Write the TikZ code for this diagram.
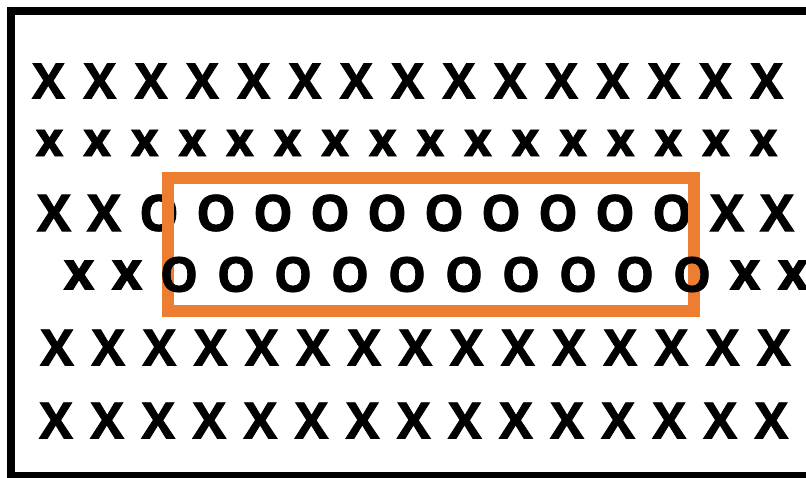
\documentclass[tikz,border=0pt]{standalone}
\usepackage{fontspec}
\setmainfont{Open Sans}[BoldFeatures={FakeBold=1.6}]
\definecolor{boxorange}{HTML}{ED7D31}
\begin{document}
\begin{tikzpicture}[x=1pt, y=-1pt, line join=miter,
	letter/.style={inner sep=0pt, font=\fontsize{#1}{#1}\selectfont\bfseries},
	letter/.default=49]
	\useasboundingbox (0,0) rectangle (806,477);
	\clip (0,0) rectangle (806,477);
	% frame, open to the right
	\draw[line width=8pt] (830,11)--(11,11)--(11,476)--(830,476);
	% upper rows
	\foreach \i in {0,...,14}
	\node[letter] (a\i) at ({48.5+51.3*\i},81) {X};
	\foreach \i in {0,...,15}
	\node[letter=48] (b\i) at ({49.5+47.6*\i},143) {x};
	% row under the box
	\foreach \x/\n in {54/1,104/2,727/13,777/14}
	\node[letter=51] (c\n) at (\x,213) {X};
	\foreach \i in {0,...,9}
	\node[letter=50] (co\i) at ({159+57*\i},213) {O};
	\draw[boxorange, line width=12pt] (168,177.5) rectangle (694,311);
	% row over the box
	\foreach \x/\n in {79/1,127/2,745/13,793/14}
	\node[letter=53] (d\n) at (\x,275) {x};
	\foreach \i in {0,...,9}
	\node[letter=48] (do\i) at ({179+57*\i},274.5) {O};
	% lower rows
	\foreach \i in {0,...,14}
	\node[letter=50] (e\i) at ({57+51.2*\i},347.5) {X};
	\foreach \i in {0,...,14}
	\node[letter=50] (f\i) at ({56+51.1*\i},420.5) {X};
\end{tikzpicture}
\end{document}
